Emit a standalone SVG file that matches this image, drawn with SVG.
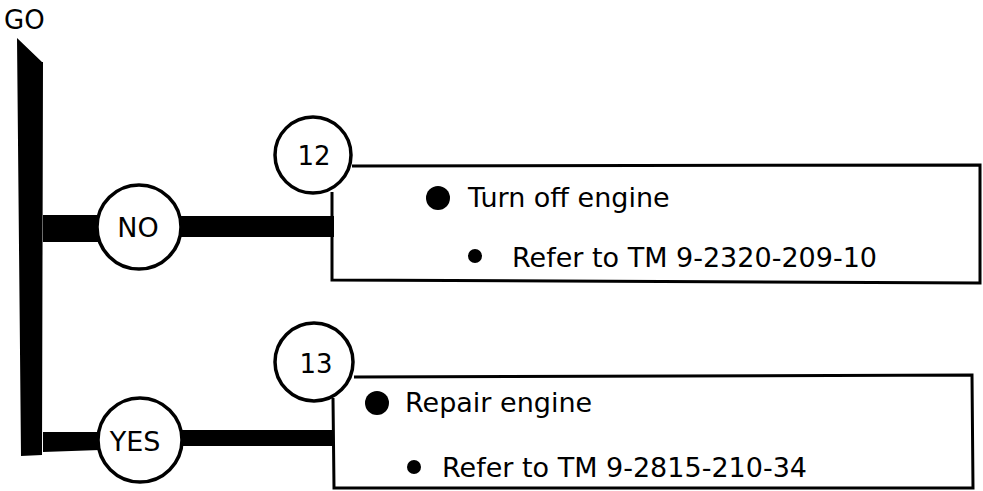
<svg xmlns="http://www.w3.org/2000/svg" width="983" height="491" viewBox="0 0 983 491">
<style>
  text { font-family: "DejaVu Sans", "Noto Sans", sans-serif; fill: #000; }
  .lbl { font-size: 27px; }
  .num { font-size: 26px; text-anchor: middle; }
  .circ { fill: #fff; stroke: #000; stroke-width: 3.5; }
  .box { fill: none; stroke: #000; stroke-width: 3; }
  .bar { fill: #000; }
</style>
<rect width="983" height="491" fill="#fff"/>
<text x="4" y="29" style="font-size:26px">GO</text>
<g id="connectors">
  <polygon class="bar" points="17,38 42,62 43,452 100,450 100,432 43,432 43,242 100,242 100,215 43,215 43,62 42,62 42,455 21,456"/>
  <rect class="bar" x="175" y="216" width="159" height="21"/>
  <rect class="bar" x="175" y="430" width="159" height="16"/>
</g>
<g id="node-no">
  <circle class="circ" cx="139" cy="227" r="42"/>
  <text class="num" x="138" y="237" style="font-size:27px">NO</text>
</g>
<g id="node-yes">
  <circle class="circ" cx="140" cy="440" r="42"/>
  <text class="num" x="135" y="451" style="font-size:27px">YES</text>
</g>
<g id="node-12">
  <polyline class="box" points="352,166 980,165 980,283 332,280 332,192"/>
  <circle class="circ" cx="313" cy="155" r="38"/>
  <text class="num" x="314" y="165">12</text>
  <circle cx="438" cy="198" r="12"/>
  <text class="lbl" x="468" y="207">Turn off engine</text>
  <circle cx="475" cy="256" r="7"/>
  <text class="lbl" x="512" y="267">Refer to TM 9-2320-209-10</text>
</g>
<g id="node-13">
  <polyline class="box" points="354,377 972,375 973,488 334,488 333,398"/>
  <circle class="circ" cx="314" cy="362" r="39"/>
  <text class="num" x="316" y="373">13</text>
  <circle cx="377" cy="403" r="12"/>
  <text class="lbl" x="405" y="412">Repair engine</text>
  <circle cx="414" cy="467" r="7"/>
  <text class="lbl" x="442" y="477">Refer to TM 9-2815-210-34</text>
</g>
</svg>
